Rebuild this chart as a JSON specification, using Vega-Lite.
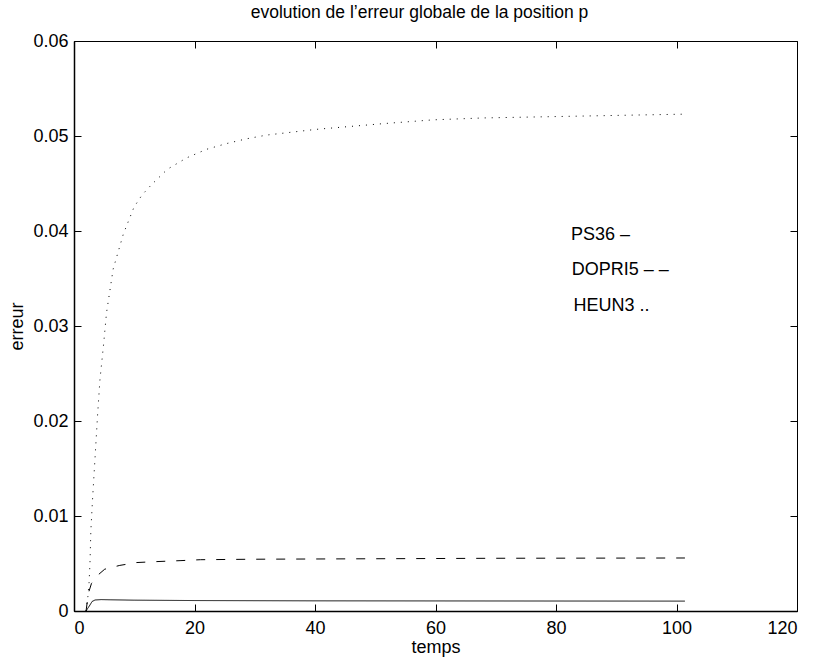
{
  "$schema": "https://vega.github.io/schema/vega-lite/v6.json",
  "autosize": {"type": "none"},
  "width": 723,
  "height": 570,
  "padding": {"left": 74, "top": 41, "right": 20, "bottom": 53},
  "background": "white",
  "config": {
    "view": {"stroke": "black", "strokeWidth": 1},
    "font": "Liberation Sans",
    "axis": {"grid": false, "labelColor": "black", "titleColor": "black", "tickColor": "black", "domainColor": "black", "labelFont": "Liberation Sans", "titleFont": "Liberation Sans", "titleFontWeight": "normal"}
  },
  "title": {
    "text": "evolution de l’erreur globale de la position p",
    "fontSize": 17.5,
    "fontWeight": "normal",
    "font": "Liberation Sans",
    "color": "black",
    "dx": -16,
    "offset": 11
  },
  "datasets": {
    "curves": [
      {"t": 2.0, "v": 0, "s": "HEUN3"},
      {"t": 2.3, "v": 0.0015, "s": "HEUN3"},
      {"t": 2.5, "v": 0.003, "s": "HEUN3"},
      {"t": 2.65, "v": 0.005, "s": "HEUN3"},
      {"t": 2.8, "v": 0.0085, "s": "HEUN3"},
      {"t": 3.1, "v": 0.012, "s": "HEUN3"},
      {"t": 3.5, "v": 0.0162, "s": "HEUN3"},
      {"t": 3.9, "v": 0.0205, "s": "HEUN3"},
      {"t": 4.3, "v": 0.0243, "s": "HEUN3"},
      {"t": 4.9, "v": 0.028, "s": "HEUN3"},
      {"t": 5.4, "v": 0.0314, "s": "HEUN3"},
      {"t": 6.5, "v": 0.036, "s": "HEUN3"},
      {"t": 8.2, "v": 0.0397, "s": "HEUN3"},
      {"t": 9.95, "v": 0.0425, "s": "HEUN3"},
      {"t": 11.3, "v": 0.0438, "s": "HEUN3"},
      {"t": 12.9, "v": 0.0449, "s": "HEUN3"},
      {"t": 15.5, "v": 0.0465, "s": "HEUN3"},
      {"t": 18.7, "v": 0.0477, "s": "HEUN3"},
      {"t": 22, "v": 0.0486, "s": "HEUN3"},
      {"t": 25.3, "v": 0.0492, "s": "HEUN3"},
      {"t": 28.6, "v": 0.0497, "s": "HEUN3"},
      {"t": 32, "v": 0.0501, "s": "HEUN3"},
      {"t": 40.2, "v": 0.0507, "s": "HEUN3"},
      {"t": 51.3, "v": 0.0513, "s": "HEUN3"},
      {"t": 59.6, "v": 0.0517, "s": "HEUN3"},
      {"t": 67.9, "v": 0.0519, "s": "HEUN3"},
      {"t": 76.2, "v": 0.052, "s": "HEUN3"},
      {"t": 84.5, "v": 0.0521, "s": "HEUN3"},
      {"t": 92.8, "v": 0.0522, "s": "HEUN3"},
      {"t": 101.4, "v": 0.0523, "s": "HEUN3"},
      {"t": 2.0, "v": 0, "s": "DOPRI5"},
      {"t": 2.4, "v": 0.0019, "s": "DOPRI5"},
      {"t": 2.9, "v": 0.0029, "s": "DOPRI5"},
      {"t": 4.0, "v": 0.0038, "s": "DOPRI5"},
      {"t": 5.1, "v": 0.0044, "s": "DOPRI5"},
      {"t": 7.6, "v": 0.0048, "s": "DOPRI5"},
      {"t": 10.4, "v": 0.0051, "s": "DOPRI5"},
      {"t": 13.7, "v": 0.0052, "s": "DOPRI5"},
      {"t": 17.6, "v": 0.0053, "s": "DOPRI5"},
      {"t": 21, "v": 0.0054, "s": "DOPRI5"},
      {"t": 30, "v": 0.00545, "s": "DOPRI5"},
      {"t": 50, "v": 0.0055, "s": "DOPRI5"},
      {"t": 70, "v": 0.00555, "s": "DOPRI5"},
      {"t": 101.4, "v": 0.00558, "s": "DOPRI5"},
      {"t": 2.0, "v": 0, "s": "PS36"},
      {"t": 2.3, "v": 0.0003, "s": "PS36"},
      {"t": 2.65, "v": 0.00063, "s": "PS36"},
      {"t": 3.0, "v": 0.001, "s": "PS36"},
      {"t": 3.5, "v": 0.00116, "s": "PS36"},
      {"t": 4.5, "v": 0.0012, "s": "PS36"},
      {"t": 6, "v": 0.00118, "s": "PS36"},
      {"t": 10, "v": 0.00114, "s": "PS36"},
      {"t": 20, "v": 0.0011, "s": "PS36"},
      {"t": 40, "v": 0.00107, "s": "PS36"},
      {"t": 60, "v": 0.00106, "s": "PS36"},
      {"t": 80, "v": 0.00105, "s": "PS36"},
      {"t": 101.4, "v": 0.00104, "s": "PS36"}
    ],
    "labels": [
      {"t": 82.5, "v": 0.0396, "label": "PS36 –"},
      {"t": 82.6, "v": 0.0359, "label": "DOPRI5 – –"},
      {"t": 82.9, "v": 0.0321, "label": "HEUN3 .."}
    ]
  },
  "resolve": {"axis": {"x": "independent", "y": "independent"}},
  "layer": [
    {
      "data": {"name": "curves"},
      "transform": [{"filter": "datum.s !== 'HEUN3'"}],
      "mark": {"type": "line", "color": "black", "strokeWidth": 1},
      "encoding": {
        "x": {"field": "t", "type": "quantitative",
              "scale": {"domain": [0, 120], "nice": false},
              "axis": {"orient": "bottom", "values": [0, 20, 40, 60, 80, 100, 120], "ticks": false, "domain": true, "domainWidth": 1.5, "labelFontSize": 18, "labelPadding": 8, "title": "temps", "titleFontSize": 18, "titlePadding": 1}},
        "y": {"field": "v", "type": "quantitative",
              "scale": {"domain": [0, 0.06], "nice": false},
              "axis": {"orient": "left", "values": [0, 0.01, 0.02, 0.03, 0.04, 0.05, 0.06], "format": "~g", "ticks": false, "domain": true, "domainWidth": 1.5, "labelFontSize": 18, "labelPadding": 6, "title": "erreur", "titleFontSize": 18, "titlePadding": 6}},
        "strokeDash": {"field": "s", "type": "nominal",
                       "scale": {"domain": ["PS36", "DOPRI5", "HEUN3"], "range": [[1, 0], [9, 11], [1, 6]]},
                       "legend": null},
        "order": {"field": "t", "type": "quantitative"}
      }
    },
    {
      "data": {"name": "labels"},
      "mark": {"type": "text", "align": "left", "baseline": "middle", "fontSize": 18, "font": "Liberation Sans", "color": "black"},
      "encoding": {
        "x": {"field": "t", "type": "quantitative",
              "scale": {"domain": [0, 120], "nice": false},
              "axis": {"orient": "bottom", "values": [0, 20, 40, 60, 80, 100, 120], "tickSize": -7, "labels": false, "domain": false, "title": null}},
        "y": {"field": "v", "type": "quantitative",
              "scale": {"domain": [0, 0.06], "nice": false},
              "axis": {"orient": "left", "values": [0, 0.01, 0.02, 0.03, 0.04, 0.05, 0.06], "tickSize": -7, "labels": false, "domain": false, "title": null}},
        "text": {"field": "label", "type": "nominal"}
      }
    },
    {
      "data": {"name": "curves"},
      "transform": [{"filter": "datum.s === 'HEUN3'"}],
      "mark": {"type": "line", "color": "black", "strokeWidth": 1},
      "encoding": {
        "x": {"field": "t", "type": "quantitative",
              "scale": {"domain": [0, 120], "nice": false},
              "axis": {"orient": "top", "values": [0, 20, 40, 60, 80, 100, 120], "tickSize": -7, "labels": false, "domain": false, "title": null}},
        "y": {"field": "v", "type": "quantitative",
              "scale": {"domain": [0, 0.06], "nice": false},
              "axis": {"orient": "right", "values": [0, 0.01, 0.02, 0.03, 0.04, 0.05, 0.06], "tickSize": -7, "labels": false, "domain": false, "title": null}},
        "strokeDash": {"field": "s", "type": "nominal",
                       "scale": {"domain": ["PS36", "DOPRI5", "HEUN3"], "range": [[1, 0], [9, 11], [1, 6]]},
                       "legend": null},
        "order": {"field": "t", "type": "quantitative"}
      }
    }
  ]
}
